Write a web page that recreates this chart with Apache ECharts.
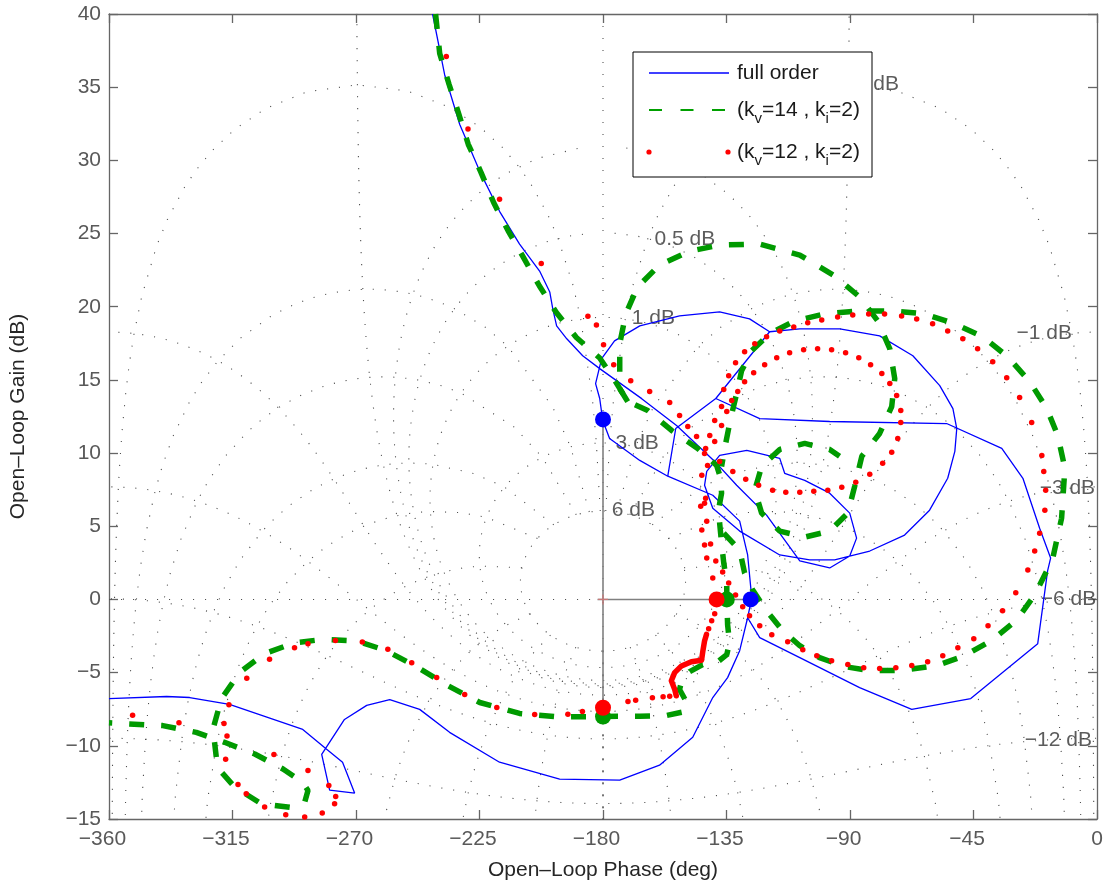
<!DOCTYPE html>
<html>
<head>
<meta charset="utf-8">
<script src="https://cdn.jsdelivr.net/npm/echarts@6/dist/echarts.min.js"></script>
<style>
html,body{margin:0;padding:0;background:#ffffff;}
#chart{width:1106px;height:886px;}
</style>
</head>
<body>
<div id="chart"></div>
<script>
const FONT = '"Liberation Sans", Arial, Helvetica, sans-serif';

// ---------------- axis ticks ----------------
const phaseTicks = [-360, -315, -270, -225, -180, -135, -90, -45, 0];
const gainTicks = [-15, -10, -5, 0, 5, 10, 15, 20, 25, 30, 35, 40];

// ---------------- Nichols grid definition (MATLAB ngrid levels) ----------------
const ngridGainsDb = [6, 3, 1, 0.5, 0.25, 0, -1, -3, -6, -12, -20, -40];
const ngridPhasesDeg = [1, 5, 10, 20, 30, 50, 90, 120, 150, 180];
const ngridSampleDb = [6, 3, 2, 1, 0.75, 0.5, 0.4, 0.3, 0.25, 0.2, 0.15, 0.1, 0.05, 0, -0.05, -0.1, -0.15, -0.2, -0.25, -0.3, -0.4, -0.5, -0.75, -1, -1.25, -1.5, -2, -2.5, -3, -4, -5, -6, -7, -8, -9, -10, -11, -12, -15, -20, -25, -30, -35, -40, -50, -60];
const ngridLabels = [
  ['0.5 dB', -161.2, 24.6], ['1 dB', -169.5, 19.2], ['3 dB', -175.4, 10.7], ['6 dB', -176.8, 6.1],
  ['0 dB', -87.9, 35.2], ['\u22121 dB', -29.3, 18.2], ['\u22123 dB', -20.9, 7.6],
  ['\u22126 dB', -20.5, 0.0], ['\u221212 dB', -26.3, -9.6]
];

// ---------------- full order (blue) ----------------
const fullOrder = [[-242.1,40.0],[-237.7,35.85],[-232.2,32.45],[-224.9,29.25],[-217.7,26.52],[-210.4,24.28],[-203.1,22.44],[-199.4,21.01],[-198.3,19.85],[-196.9,18.69],[-193.2,17.81],[-187.4,16.65],[-181.2,15.77],[-165.9,13.72],[-153.2,11.89],[-138.6,9.30],[-131.3,7.80],[-120.4,5.76],[-108.3,2.63],
  [-97.4,2.15],[-90.1,2.97],[-87.6,4.19],[-90.1,5.90],[-97.4,7.26],[-106.5,8.14],[-113.8,8.62],[-115.6,9.64],[-127.6,10.18],[-137.5,9.84],[-142.2,8.75],[-143.0,7.80],[-140.0,6.23],[-130.2,4.67],[-115.6,3.04],[-104.7,2.70],[-95.6,2.70],[-82.8,3.31],[-70.1,4.40],[-61.0,6.10],[-54.4,8.28],[-51.8,10.12],[-51.1,11.68],[-52.5,13.04],[-57.3,14.61],[-67.1,16.65],[-79.2,18.01],[-93.7,18.49],[-108.3,18.49],[-119.3,18.29],
  [-126.6,19.17],[-137.5,19.65],[-152.1,19.37],[-166.6,18.69],[-175.8,17.67],[-180.5,16.45],[-182.7,14.75],[-181.2,13.73],[-180.1,12.23],[-177.6,11.0],[-166.6,9.5],[-156.4,8.42],[-140.0,7.12],[-130.2,5.35],[-127.3,3.04],[-125.8,0.11],[-127.3,-1.25],[-130.2,-3.5],[-134.6,-5.34],[-140.0,-6.7],[-147.3,-9.42],[-159.4,-11.32],[-173.9,-12.35],[-195.8,-12.28],[-217.7,-11.12],[-235.9,-9.08],[-246.8,-7.51],[-257.7,-6.84],[-266.1,-7.24],[-274.2,-8.2],[-282.5,-10.58],[-279.6,-13.03],[-270.5,-13.23],[-274.9,-11.12],[-280.7,-10.24],[-289.4,-8.88],[-316.1,-7.17],[-330.6,-6.7],[-339.0,-6.63],[-360.0,-6.77]];
const fullOrderBranch1 = [[-156.4,8.42],[-153.5,11.68],[-138.9,13.73],[-119.3,18.29]];
const fullOrderBranch2 = [[-138.9,13.73],[-122.9,12.36],[-97.4,12.16],[-54.8,12.02],[-34.7,10.32],[-27.0,8.28],[-20.9,4.87],[-16.9,2.83],[-18.0,1.95],[-21.6,-3.02],[-46.0,-6.77],[-67.5,-7.51],[-86.5,-6.02],[-108.3,-3.97],[-122.9,-2.61],[-127.3,-1.25]];

// ---------------- (kv=14, ki=2) green dashed ----------------
const kv14Top = [[-241.0,40.0],[-239.5,37.3],[-236.1,35.2],[-232.6,33.2],[-229.1,31.1],[-224.5,29.2],[-219.8,27.1],[-214.6,25.2],[-209.1,23.4],[-203.1,21.4],[-197.0,19.6],[-189.7,17.9],[-181.2,16.5]];
const kv14Backbone = [[-176.1,15.09],[-171.0,13.52],[-163.7,12.91],[-155.0,11.55],[-145.5,10.32],[-138.6,9.16],[-137.1,8.28],[-136.8,7.26],[-137.8,6.24],[-137.5,5.22],[-136.8,3.85],[-136.0,2.49],[-134.9,1.13]];
const kv14Bottom = [[-360.0,-8.43],[-340.4,-8.62],[-328.2,-9.08],[-317.9,-9.76],[-306.9,-10.56],[-296.6,-11.58],[-289.5,-12.48],[-287.5,-13.05],[-288.7,-13.85],[-293.0,-14.23],[-304.5,-13.96],[-314.2,-12.82],[-319.0,-11.8],[-320.9,-10.78],[-322.1,-8.86],[-319.1,-6.81],[-312.4,-4.99],[-303.3,-3.70],[-292.4,-2.96],[-282.1,-2.73],[-269.9,-2.84],[-259.6,-3.45],[-248.6,-4.52],[-236.6,-5.88],[-224.9,-7.04],[-210.4,-7.79],[-195.8,-8.03],[-180.1,-7.99],[-166.6,-7.98],[-157.2,-7.94],[-149.9,-7.65],[-149.5,-7.04],[-152.1,-6.15],[-151.3,-5.54],[-148.4,-4.93],[-143.7,-4.45],[-138.6,-4.32],[-134.9,-3.77],[-133.9,-2.95],[-134.6,-1.73],[-134.9,0.04]];
const kv14Spiral = [[-171.0,13.52],[-173.9,14.40],[-173.9,15.63],[-173.9,17.47],[-171.7,19.51],[-167.4,21.35],[-159.4,22.85],[-148.4,23.80],[-137.5,24.21],[-122.9,24.28],[-108.3,23.53],[-95.6,22.10],[-86.5,20.67],[-79.9,19.03],[-75.5,17.13],[-73.7,15.09],[-74.8,13.18],[-79.2,11.34],[-85.7,9.78],[-88.3,7.73],[-90.8,5.90],[-97.4,4.67],[-106.5,4.26],[-115.6,4.67],[-122.2,5.90],[-124.7,7.46],[-122.2,9.09],[-115.6,10.25],[-106.5,10.66],[-97.4,10.25],[-93.8,9.78]];
const kv14Outer = [[-136.0,4.53],[-130.2,3.38],[-128.4,1.81],[-125.5,0.66],[-120.4,-0.78],[-114.5,-2.14],[-108.3,-3.16],[-101.1,-3.97],[-91.9,-4.59],[-82.8,-4.86],[-71.9,-4.86],[-58.4,-4.52],[-48.2,-3.84],[-38.0,-2.75],[-29.2,-1.39],[-22.7,0.31],[-18.3,1.95],[-16.1,2.83],[-12.9,5.55],[-11.7,8.96],[-14.3,11.2],[-18.3,13.04],[-24.5,14.88],[-32.5,16.58],[-41.6,17.95],[-51.8,18.83],[-62.8,19.51],[-74.4,19.71],[-86.5,19.71],[-99.2,19.51],[-110.2,19.03],[-119.3,18.15],[-125.8,16.99],[-129.5,15.63],[-131.3,14.07],[-133.5,12.36],[-135.3,10.66],[-136.8,9.09]];

// ---------------- (kv=12, ki=2) red dots ----------------
const kv12Dots = [
  [-237.1,37.09],[-229.2,32.15],[-217.7,27.34],[-202.5,22.96],[-185.5,19.35],[-182.4,18.76],
  [-179.8,17.40],[-176.1,16.04],[-169.9,14.95],[-163.0,14.20],
  [-155.7,13.45],[-152.1,12.57],[-149.1,11.82],[-145.9,11.14],[-142.6,10.32],
  [-143.0,9.98],[-141.1,11.21],[-139.3,10.80],[-139.3,12.23],[-136.8,11.89],[-136.8,13.18],[-134.9,12.84],[-133.1,13.59],[-141.9,9.16],[-144.0,8.48],[-137.5,9.43],
  [-132.7,8.75],[-128.0,8.21],[-123.3,7.80],[-118.2,7.46],[-113.4,7.32],
  [-142.6,6.92],[-143.0,6.58],[-144.4,6.37],[-142.2,5.35],[-144.0,4.74],[-143.0,3.72],[-140.8,3.79],[-142.2,2.83],[-138.9,2.63],[-140.0,1.47],
  [-139.3,-0.98],[-140.4,-1.45],[-141.5,-2.00],
  [-129.1,-0.50],[-126.6,-1.12],[-122.9,-1.80],[-118.5,-2.41],
  [-131.7,0.31],[-134.2,1.13],[-136.4,1.88],
  [-108.3,7.32],[-103.2,7.39],[-98.1,7.46],[-93.0,7.66],[-87.9,8.00],[-82.8,8.55],[-78.1,9.30],[-74.8,10.05],[-72.6,11.00],[-71.5,12.09],[-71.5,12.91],[-73.0,13.93],[-75.5,14.75],[-78.4,15.43],[-82.5,16.04],[-86.8,16.51],[-91.6,16.85],[-96.7,17.06],[-101.8,17.13],[-106.9,17.06],[-112.0,16.85],[-116.7,16.51],[-121.1,16.04],[-125.1,15.49],[-128.4,14.88],[-130.9,14.20],
  [-83.2,19.51],[-89.0,19.44],[-94.5,19.30],[-100.3,19.10],[-105.4,18.90],[-110.5,18.62],[-115.6,18.35],[-120.4,17.95],[-124.7,17.47],[-128.4,16.92],[-131.7,16.18],[-134.2,15.29],[-136.0,14.34],
  [-77.4,19.51],[-71.2,19.37],[-65.7,19.17],[-59.9,18.83],[-54.4,18.35],[-48.9,17.81],[-43.5,17.13],[-38.0,16.24],[-32.9,15.15],[-28.2,13.79],[-23.8,12.09],[-20.1,9.84],[-19.4,8.75],[-18.7,7.46],[-19.0,6.10],[-20.9,4.53],[-22.7,3.31],
  [-25.2,2.02],[-29.6,0.45],[-34.4,-0.78],[-39.7,-1.80],[-44.9,-2.68],[-50.7,-3.30],[-56.2,-3.84],[-61.7,-4.25],[-67.5,-4.52],
  [-73.3,-4.66],[-79.2,-4.72],[-85.0,-4.66],[-90.8,-4.45],[-96.7,-4.18],[-102.1,-3.84],[-107.2,-3.43],[-112.7,-2.89],
  [-351.4,-7.92],[-334.5,-8.42],[-299.9,-10.6],[-287.5,-11.69],[-279.9,-12.71],[-277.4,-13.46],[-277.8,-13.96],[-282.3,-14.59],[-288.7,-14.87],[-295.6,-14.71],[-303.3,-14.18],[-310.0,-13.28],[-313.0,-12.64],[-317.5,-10.92],[-317.0,-9.33],[-318.1,-8.47],[-316.3,-7.19],[-309.8,-5.38],[-301.5,-4.09],[-292.4,-3.30],[-287.5,-3.02],[-277.5,-2.80],[-267.7,-2.91],[-258.4,-3.41],[-249.7,-4.32],[-240.6,-5.34],[-230.4,-6.49],[-218.7,-7.38],[-204.9,-7.86],[-192.8,-7.84],[-187.5,-7.65],[-170.9,-6.97],[-168.1,-6.88],[-162.0,-6.72],[-158.1,-6.65],[-155.7,-6.61]];
const kv12Dense = [[-153.3,-6.58],[-153.9,-6.13],[-155.1,-5.56],[-153.9,-5.00],[-151.4,-4.54],[-147.8,-4.25],[-144.1,-4.16],[-143.6,-3.52],[-143.0,-2.84],[-142.3,-2.39]];

// ---------------- stability-margin markers ----------------
const marginFull = [[-180, 12.3], [-126.2, 0]];
const marginKv14 = [[-180, -8.0], [-134.9, 0]];
const marginKv12 = [[-180, -7.4], [-138.6, 0]];
const criticalPoint = [[-180, 0]];

// ===================================================================
function olPoint(mDb, thDeg) {
  const M = Math.pow(10, mDb / 20), th = thDeg * Math.PI / 180;
  const a = M * Math.cos(th), b = M * Math.sin(th);
  const den = (1 - a) * (1 - a) + b * b;
  const gr = (a - M * M) / den, gi = b / den;
  let ph = Math.atan2(gi, gr) * 180 / Math.PI;
  if (ph > 0) ph -= 360;
  return [ph, 20 * Math.log10(M / Math.sqrt(den))];
}
function splitJumps(pts) {
  const out = [];
  for (let i = 0; i < pts.length; i++) {
    if (i > 0 && Math.abs(pts[i][0] - pts[i - 1][0]) > 180) out.push([NaN, NaN]);
    out.push(pts[i]);
  }
  return out;
}
const gridStyle = { color: '#505050', width: 1.1, type: [1.1, 10.9] };
const gridSeries = [];
ngridGainsDb.forEach(function (m) {
  const pts = [];
  for (let t = -0.25; t > -360; t -= 0.5) pts.push(olPoint(m, t));
  gridSeries.push({ type: 'line', data: splitJumps(pts), symbol: 'none', silent: true, animation: false, z: 1, lineStyle: gridStyle, connectNulls: false });
});
ngridPhasesDeg.forEach(function (p) {
  [-p, p - 360].forEach(function (th) {
    const pts = ngridSampleDb.map(function (m) { return olPoint(m, th); });
    gridSeries.push({ type: 'line', data: pts, symbol: 'none', silent: true, animation: false, z: 1, lineStyle: gridStyle });
  });
});
gridSeries.push({ type: 'line', data: [[-360, 0], [0, 0]], symbol: 'none', silent: true, animation: false, z: 1, lineStyle: gridStyle });
gridSeries.push({ type: 'line', data: [[-180, -15], [-180, 40]], symbol: 'none', silent: true, animation: false, z: 1, lineStyle: gridStyle });

function fmtTick(v) { return v < 0 ? '{n|\u2212' + Math.abs(v) + '}' : '{z|' + v + '}'; }

const chart = echarts.init(document.getElementById('chart'), null, { renderer: 'canvas' });
const blueLine = { color: '#0000ff', width: 1.3 };
const greenLine = { color: '#009a00', width: 5.5, type: [15, 17], cap: 'butt' };
const kv14Main = kv14Top.concat(kv14Backbone, kv14Bottom.slice().reverse());

function lineSeries(name, data, z, style) {
  return { name: name, type: 'line', data: data, symbol: 'none', z: z, lineStyle: style, silent: true };
}

const option = {
  animation: false,
  backgroundColor: '#ffffff',
  grid: { left: 109, right: 9, top: 14, bottom: 64, containLabel: false },
  xAxis: [{
    type: 'value', min: -360, max: 0, interval: 45, position: 'bottom',
    name: 'Open\u2013Loop Phase (deg)', nameLocation: 'middle', nameGap: 41,
    nameTextStyle: { fontFamily: FONT, fontSize: 21, color: '#262626' },
    axisLine: { show: true, onZero: false, lineStyle: { color: '#666666', width: 1.3 } },
    axisTick: { show: true, inside: true, length: 9, lineStyle: { color: '#666666', width: 1.3 } },
    axisLabel: { margin: 10, formatter: fmtTick, fontFamily: FONT, fontSize: 21, color: '#595959',
      rich: { n: { fontFamily: FONT, fontSize: 21, color: '#595959', padding: [0, 13, 0, 0] }, z: { fontFamily: FONT, fontSize: 21, color: '#595959' } } },
    splitLine: { show: false }
  }, {
    type: 'value', min: -360, max: 0, interval: 45, position: 'top',
    axisLine: { show: true, onZero: false, lineStyle: { color: '#666666', width: 1.3 } },
    axisTick: { show: true, inside: true, length: 9, lineStyle: { color: '#666666', width: 1.3 } },
    axisLabel: { show: false }, splitLine: { show: false }
  }],
  yAxis: [{
    type: 'value', min: -15, max: 40, interval: 5, position: 'left',
    name: 'Open\u2013Loop Gain (dB)', nameLocation: 'middle', nameGap: 80, nameRotate: 90,
    nameTextStyle: { fontFamily: FONT, fontSize: 21, color: '#262626' },
    axisLine: { show: true, onZero: false, lineStyle: { color: '#666666', width: 1.3 } },
    axisTick: { show: true, inside: true, length: 9, lineStyle: { color: '#666666', width: 1.3 } },
    axisLabel: { margin: 8, formatter: function (v) { return v < 0 ? '\u2212' + Math.abs(v) : '' + v; }, fontFamily: FONT, fontSize: 21, color: '#595959' },
    splitLine: { show: false }
  }, {
    type: 'value', min: -15, max: 40, interval: 5, position: 'right',
    axisLine: { show: true, onZero: false, lineStyle: { color: '#666666', width: 1.3 } },
    axisTick: { show: true, inside: true, length: 9, lineStyle: { color: '#666666', width: 1.3 } },
    axisLabel: { show: false }, splitLine: { show: false }
  }],
  series: gridSeries.concat([
    { type: 'scatter', data: ngridLabels.map(function (d) { return { value: [d[1], d[2]], name: d[0] }; }),
      symbolSize: 0, silent: true, z: 2,
      label: { show: true, position: 'right', distance: 0, formatter: function (p) { return p.name; }, fontFamily: FONT, fontSize: 21, color: '#333333' } },
    lineSeries('gm', [[-180, 12.3], [-180, -8.0]], 3, { color: '#808080', width: 1.6 }),
    lineSeries('pm', [[-182, 0], [-126.2, 0]], 3, { color: '#808080', width: 1.6 }),
    { type: 'scatter', data: criticalPoint, symbol: 'path://M0,4.4 L10,4.4 L10,5.6 L0,5.6 Z M4.4,0 L5.6,0 L5.6,10 L4.4,10 Z', symbolSize: 10, z: 4, silent: true, itemStyle: { color: '#c87878', opacity: 1 } },
    lineSeries('full order', fullOrder, 5, blueLine),
    lineSeries('full order', fullOrderBranch1, 5, blueLine),
    lineSeries('full order', fullOrderBranch2, 5, blueLine),
    lineSeries('kv14', kv14Main, 6, greenLine),
    lineSeries('kv14', kv14Spiral, 6, greenLine),
    lineSeries('kv14', kv14Outer, 6, greenLine),
    lineSeries('kv12', kv12Dense, 7, { color: '#ff0000', width: 5.5, cap: 'round', join: 'round' }),
    { name: 'kv12', type: 'scatter', data: kv12Dots, symbol: 'circle', symbolSize: 5.5, z: 7, silent: true, itemStyle: { color: '#ff0000', opacity: 1 } },
    { type: 'scatter', data: marginKv14, symbolSize: 16, z: 8, silent: true, itemStyle: { color: '#009a00', opacity: 1 } },
    { type: 'scatter', data: marginKv12, symbolSize: 16, z: 9, silent: true, itemStyle: { color: '#ff0000', opacity: 1 } },
    { type: 'scatter', data: marginFull, symbolSize: 16, z: 9, silent: true, itemStyle: { color: '#0000ff', opacity: 1 } }
  ]),
  graphic: [
    { type: 'rect', z: 100, shape: { x: 633, y: 52, width: 239, height: 125 }, style: { fill: '#ffffff', stroke: '#000000', lineWidth: 1 } },
    { type: 'line', z: 101, shape: { x1: 649, y1: 73, x2: 729, y2: 73 }, style: { stroke: '#0000ff', lineWidth: 1.3 } },
    { type: 'text', z: 101, x: 737, y: 73, style: { text: 'full order', font: '21px ' + FONT, fill: '#1a1a1a', verticalAlign: 'middle' } },
    { type: 'line', z: 101, shape: { x1: 649, y1: 110, x2: 729, y2: 110 }, style: { stroke: '#00a000', lineWidth: 2, lineDash: [13, 18.5] } },
    { type: 'text', z: 101, x: 737, y: 110, style: { text: '{a|(k}{s|v}{a|=14 , k}{s|i}{a|=2)}', verticalAlign: 'middle',
      rich: { a: { fontFamily: FONT, fontSize: 21, lineHeight: 32, fill: '#1a1a1a', verticalAlign: 'middle' }, s: { fontFamily: FONT, fontSize: 15, lineHeight: 15, fill: '#1a1a1a', verticalAlign: 'bottom' } } } },
    { type: 'circle', z: 101, shape: { cx: 649, cy: 152, r: 2.6 }, style: { fill: '#ff0000' } },
    { type: 'circle', z: 101, shape: { cx: 728, cy: 152, r: 2.6 }, style: { fill: '#ff0000' } },
    { type: 'text', z: 101, x: 737, y: 152, style: { text: '{a|(k}{s|v}{a|=12 , k}{s|i}{a|=2)}', verticalAlign: 'middle',
      rich: { a: { fontFamily: FONT, fontSize: 21, lineHeight: 32, fill: '#1a1a1a', verticalAlign: 'middle' }, s: { fontFamily: FONT, fontSize: 15, lineHeight: 15, fill: '#1a1a1a', verticalAlign: 'bottom' } } } }
  ]
};
chart.setOption(option);
</script>
</body>
</html>
